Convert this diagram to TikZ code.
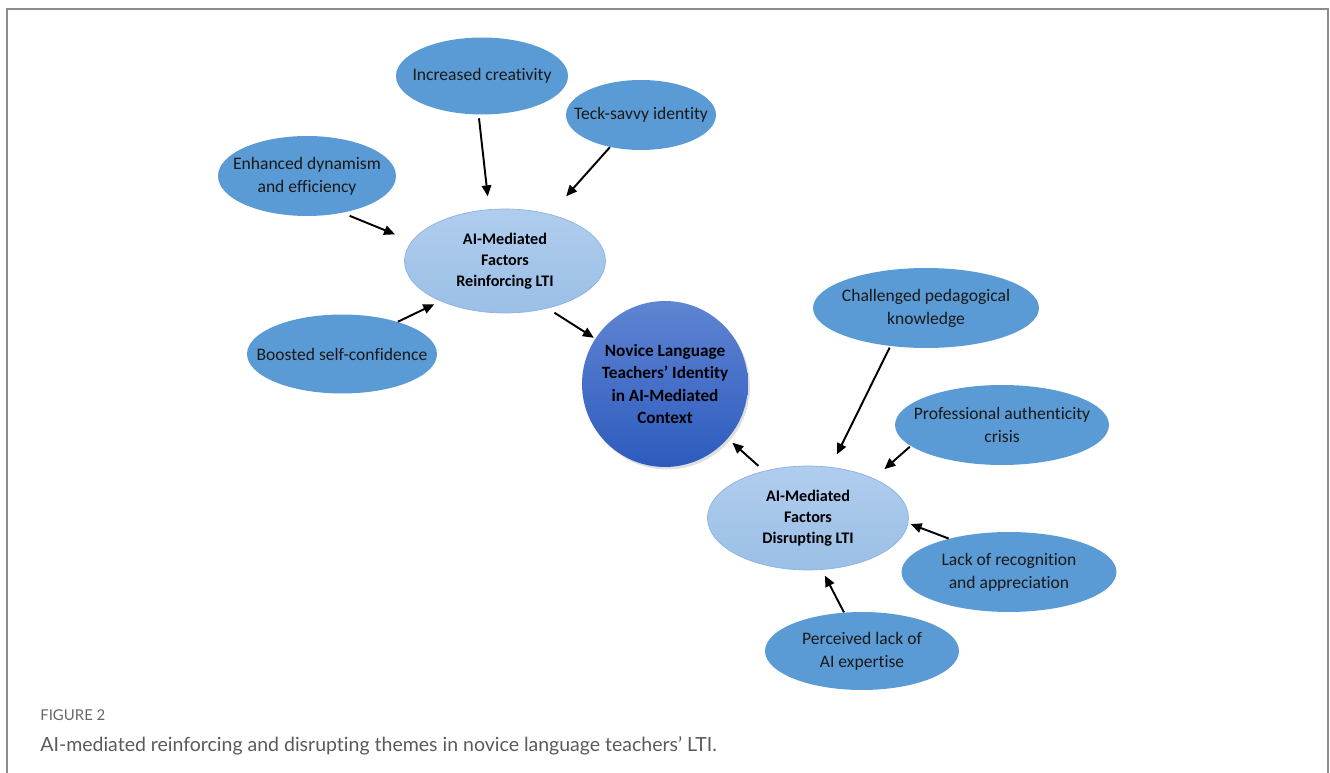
\documentclass[tikz,border=0pt]{standalone}
\usepackage{fontspec}
\setmainfont{Carlito}[Ligatures=NoCommon]
\newfontfamily\capfont{Lato}[Ligatures=NoCommon]
\usetikzlibrary{shapes.geometric,arrows.meta,shadows}

\definecolor{outblue}{HTML}{5B9BD5}
\definecolor{midtop}{HTML}{B0CDEE}
\definecolor{midbot}{HTML}{9BBFE6}
\definecolor{midline}{HTML}{8DB3E2}
\definecolor{novtop}{HTML}{5F84D2}
\definecolor{novbot}{HTML}{2D5BBE}
\definecolor{framegray}{HTML}{8C8C8C}
\definecolor{capgray}{HTML}{5A5A5A}

\begin{document}
\begin{tikzpicture}[x=0.02cm, y=-0.02cm,
    theme/.style={ellipse, fill=outblue, inner xsep=-0.6cm, inner ysep=0pt, align=center, text=black!90,
      font=\fontsize{10}{13}\selectfont},
    factor/.style={ellipse, top color=midtop, bottom color=midbot, draw=midline, line width=0.4pt,
      inner xsep=-0.5cm, inner ysep=0pt, align=center, minimum width=4.02cm, minimum height=2.08cm,
      font=\bfseries\fontsize{9.2}{12}\selectfont},
    core/.style={circle, top color=novtop, bottom color=novbot, inner sep=0pt, minimum size=3.32cm,
      align=center, font=\bfseries\fontsize{9.8}{12.8}\selectfont,
      drop shadow={opacity=0.25, shadow xshift=0.04cm, shadow yshift=-0.05cm}},
    arr/.style={-{Triangle[length=0.22cm,width=0.19cm]}, line width=1.1pt}]
  \useasboundingbox (0,0) rectangle (1330,773);
  % Frame, open at the bottom
  \draw[framegray, line width=1pt] (7,773) -- (7,9) -- (1328,9) -- (1328,773);

  % Reinforcing side
  \node[theme, minimum width=3.44cm, minimum height=1.54cm] (creat) at (482,76) {Increased creativity};
  \node[theme, minimum width=3.0cm, minimum height=1.4cm] (techsavvy) at (641,115) {Teck-savvy identity};
  \node[theme, minimum width=3.56cm, minimum height=1.6cm] (dynam) at (307,176) {Enhanced dynamism\\and efficiency};
  \node[theme, minimum width=3.8cm, minimum height=1.58cm] (boost) at (342,354) {Boosted self-confidence};
  \node[factor] (reinf) at (505,261) {AI-Mediated\\Factors\\Reinforcing LTI};

  % Core
  \node[core] (novice) at (665,384) {Novice Language\\Teachers’ Identity\\in AI-Mediated\\Context};

  % Disrupting side
  \node[theme, minimum width=4.52cm, minimum height=1.6cm] (challenged) at (926,308) {Challenged pedagogical\\knowledge};
  \node[theme, minimum width=4.28cm, minimum height=1.6cm] (authent) at (1002,425) {Professional authenticity\\crisis};
  \node[theme, minimum width=4.3cm, minimum height=1.6cm] (recog) at (1009,572) {Lack of recognition\\and appreciation};
  \node[theme, minimum width=3.88cm, minimum height=1.56cm] (expertise) at (862,651) {Perceived lack of\\AI expertise};
  \node[factor] (disrupt) at (808,518) {AI-Mediated\\Factors\\Disrupting LTI};

  % Arrows into the factor ellipses
  \draw[arr, shorten <=0.07cm, shorten >=0.26cm] (creat.-95) -- (reinf.107);
  \draw[arr, shorten >=0.48cm] (techsavvy.-134) -- (reinf.46);
  \draw[arr, shorten <=0.15cm, shorten >=0.36cm] (dynam.-46) -- (reinf.168);
  \draw[arr, shorten >=0.14cm] (boost.30) -- (reinf.-148);
  \draw[arr, shorten <=0.03cm, shorten >=0.28cm] (challenged.-133) -- (disrupt.66);
  \draw[arr, shorten <=0.02cm, shorten >=0.28cm] (authent.-167) -- (disrupt.31);
  \draw[arr, shorten >=0.05cm] (recog.151) -- (disrupt.-3);
  \draw[arr, shorten >=0.13cm] (expertise.115) -- (disrupt.-75);

  % Arrows into the core
  \draw[arr, shorten <=0.16cm, shorten >=0.03cm] (reinf.-48) -- (novice.147);
  \draw[arr, shorten <=0.15cm, shorten >=0.12cm] (disrupt.133) -- (novice.-41);

  % Caption
  \node[anchor=base west, inner sep=0pt, text=black!60, font=\capfont\fontsize{8.5}{10}\selectfont] (figlabel) at (40,721) {FIGURE 2};
  \node[anchor=base west, inner sep=0pt, text=capgray, font=\capfont\fontsize{11.1}{13}\selectfont] (figcaption) at (40,751)
    {AI-mediated reinforcing and disrupting themes in novice language teachers’ LTI.};
\end{tikzpicture}
\end{document}
